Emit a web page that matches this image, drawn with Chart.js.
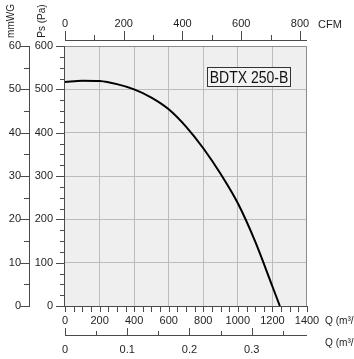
<!DOCTYPE html>
<html><head><meta charset="utf-8">
<script src="https://cdn.jsdelivr.net/npm/chart.js@4"></script>
<style>html,body{margin:0;padding:0;background:#fff;overflow:hidden}</style>
</head><body>
<canvas id="c" width="354" height="359"></canvas>
<script>
// ---- data ----
const flowM3h    = [0, 100, 200, 300, 400, 500, 600, 700, 800, 900, 1000, 1100, 1200, 1243];
const pressurePa = [517, 520, 519, 512, 500, 481, 454, 414, 364, 305, 237, 149, 45, 0];
const qTicks   = [0, 200, 400, 600, 800, 1000, 1200, 1400];
const cfmTicks = [0, 200, 400, 600, 800];
const m3sTicks = [0, 0.1, 0.2, 0.3];
const paTicks  = [0, 100, 200, 300, 400, 500, 600];
const mmTicks  = [0, 10, 20, 30, 40, 50, 60];
const modelLabel = 'BDTX 250-B';

const FAM = '"Liberation Sans", Arial, sans-serif';
const FONT = {family: FAM, size: 11};
const TXT = '#1e1e1e', AX = '#4a4a4a', GRID = '#bcbcbc', BG = '#efefef';
const QMAX = 1400, CFM_PER_M3H = 1 / 1.699;

const fix = arr => s => { s.ticks = arr.map(v => ({value: v})); };
const lbl = v => String(v);
const innerGrid = max => ctx => (ctx.tick && ctx.tick.value > 0 && ctx.tick.value < max) ? GRID : 'rgba(0,0,0,0)';

function crispV(ctx, x, y1, y2){ ctx.beginPath(); ctx.moveTo(Math.round(x)+0.5, y1); ctx.lineTo(Math.round(x)+0.5, y2); ctx.stroke(); }
function crispH(ctx, y, x1, x2){ ctx.beginPath(); ctx.moveTo(x1, Math.round(y)+0.5); ctx.lineTo(x2, Math.round(y)+0.5); ctx.stroke(); }

const deco = {
  id: 'deco',
  beforeDraw(chart){
    const {ctx, chartArea: a} = chart;
    ctx.save(); ctx.fillStyle = BG;
    ctx.fillRect(a.left, a.top, a.right - a.left, a.bottom - a.top);
    ctx.restore();
  },
  afterDraw(chart){
    const {ctx, chartArea: a, scales: s} = chart;
    ctx.save();
    ctx.lineWidth = 1;
    // plot frame
    ctx.strokeStyle = '#8c8c8c';
    crispH(ctx, a.top, a.left, a.right);
    crispV(ctx, a.right - 1, a.top, a.bottom);
    ctx.strokeStyle = AX;
    crispV(ctx, a.left - 1, a.top, a.bottom + 1);
    crispH(ctx, a.bottom, a.left - 3, a.right);
    // main x ticks (every 50)
    for (let v = 0; v <= QMAX; v += 50) crispV(ctx, s.x.getPixelForValue(v), a.bottom, a.bottom + 6);
    // top CFM axis
    const yt = 40;
    crispH(ctx, yt, a.left, a.right);
    for (let v = 0; v <= 800; v += 100) {
      const major = v % 200 === 0;
      crispV(ctx, s.xTop.getPixelForValue(v), major ? yt - 9 : yt - 5, yt + 1);
    }
    // bottom m3/s axis
    const yb = 335;
    crispH(ctx, yb, a.left, a.right);
    for (let k = 0; k <= 7; k++) {
      const v = k * 0.05, major = k % 2 === 0;
      crispV(ctx, s.xs.getPixelForValue(v), major ? yb - 7 : yb - 4, yb + 1);
    }
    // Pa ticks
    for (let v = 0; v <= 600; v += 25) {
      const major = v % 100 === 0;
      crispH(ctx, s.y.getPixelForValue(v), major ? a.left - 9 : a.left - 5, a.left);
    }
    // mmWG axis
    const xm = 29;
    crispV(ctx, xm, s.yMm.getPixelForValue(60), s.yMm.getPixelForValue(0) + 1);
    for (let v = 0; v <= 60; v += 5) {
      const major = v % 10 === 0;
      crispH(ctx, s.yMm.getPixelForValue(v), major ? xm - 9 : xm - 5, xm + 1);
    }
    // axis titles
    ctx.fillStyle = TXT;
    ctx.font = '10px ' + FAM;
    ctx.textBaseline = 'middle';
    ctx.textAlign = 'center';
    ctx.save(); ctx.translate(11, 21); ctx.rotate(-Math.PI / 2); ctx.fillText('mmWG', 0, 0); ctx.restore();
    ctx.save(); ctx.translate(42, 21); ctx.rotate(-Math.PI / 2); ctx.fillText('Ps (Pa)', 0, 0); ctx.restore();
    ctx.font = '11px ' + FAM;
    ctx.textAlign = 'left';
    ctx.fillText('CFM', 318, 25);
    ctx.save(); ctx.translate(325, 321); ctx.scale(0.92, 1); ctx.fillText('Q (m³/h)', 0, 0); ctx.restore();
    ctx.save(); ctx.translate(325, 343); ctx.scale(0.92, 1); ctx.fillText('Q (m³/s)', 0, 0); ctx.restore();
    // model label box
    const bx = 207, by = 67, bw = 84, bh = 20;
    ctx.fillStyle = '#f3f3f3';
    ctx.fillRect(bx, by, bw, bh);
    ctx.strokeStyle = '#333';
    ctx.strokeRect(bx + 0.5, by + 0.5, bw - 1, bh - 1);
    ctx.fillStyle = '#111';
    ctx.save();
    ctx.translate(bx + bw / 2, by + bh / 2 + 1);
    ctx.scale(1, 1.2);
    ctx.textAlign = 'center';
    ctx.font = '14px ' + FAM;
    ctx.fillText(modelLabel, 0, 0);
    ctx.restore();
    ctx.restore();
  }
};

new Chart(document.getElementById('c'), {
  type: 'line',
  data: {
    datasets: [{
      data: flowM3h.map((q, i) => ({x: q, y: pressurePa[i]})),
      borderColor: '#000', borderWidth: 2, pointRadius: 0,
      cubicInterpolationMode: 'monotone', fill: false
    }]
  },
  options: {
    responsive: false, animation: false, devicePixelRatio: 1,
    layout: {padding: {left: 0, top: 0, right: 47, bottom: 0}},
    plugins: {legend: {display: false}, tooltip: {enabled: false}},
    scales: {
      x: {type: 'linear', position: 'bottom', weight: 0, min: 0, max: QMAX,
          afterBuildTicks: fix(qTicks), afterFit: s => { s.height = 22; },
          grid: {drawTicks: false, color: innerGrid(QMAX), lineWidth: 1},
          border: {display: false},
          ticks: {padding: 8, font: FONT, color: TXT, maxRotation: 0, autoSkip: false, callback: lbl}},
      xs: {type: 'linear', position: 'bottom', weight: 1, min: 0, max: QMAX / 3600,
          afterBuildTicks: fix(m3sTicks), afterFit: s => { s.height = 31; },
          grid: {display: false, drawTicks: false}, border: {display: false},
          ticks: {padding: 15, font: FONT, color: TXT, maxRotation: 0, autoSkip: false, callback: lbl}},
      xTop: {type: 'linear', position: 'top', min: 0, max: QMAX * CFM_PER_M3H,
          afterBuildTicks: fix(cfmTicks), afterFit: s => { s.height = 46; },
          grid: {display: false, drawTicks: false}, border: {display: false},
          ticks: {padding: 15, font: FONT, color: TXT, maxRotation: 0, autoSkip: false, callback: lbl}},
      y: {type: 'linear', position: 'left', weight: 0, min: 0, max: 600,
          afterBuildTicks: fix(paTicks), afterFit: s => { s.width = 35; },
          grid: {drawTicks: false, color: innerGrid(600), lineWidth: 1},
          border: {display: false},
          ticks: {padding: 12, font: FONT, color: TXT, autoSkip: false, callback: lbl}},
      yMm: {type: 'linear', position: 'left', weight: 1, min: 0, max: 60,
          afterBuildTicks: fix(mmTicks), afterFit: s => { s.width = 30; },
          grid: {display: false, drawTicks: false}, border: {display: false},
          ticks: {padding: 9, font: FONT, color: TXT, autoSkip: false, callback: lbl}}
    }
  },
  plugins: [deco]
});
</script>
</body></html>
